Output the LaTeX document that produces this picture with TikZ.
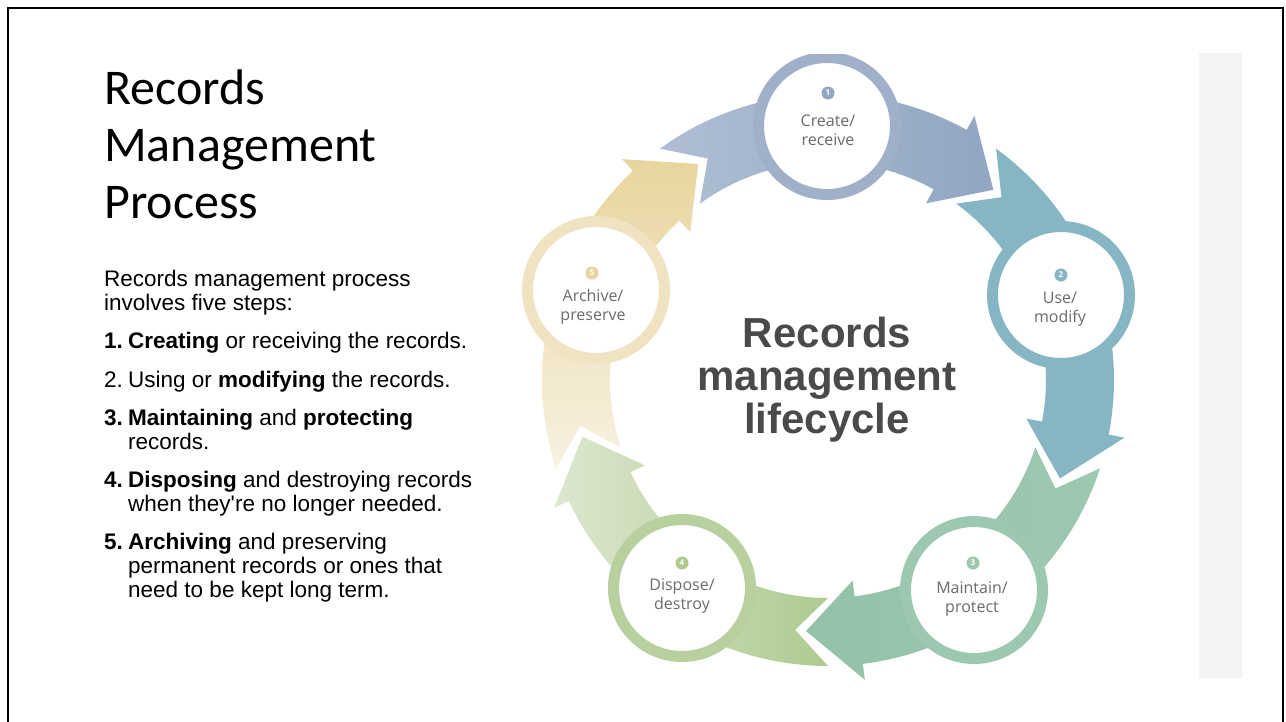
\documentclass[tikz,border=0pt]{standalone}
\usepackage{fontspec}
\setmainfont{Liberation Sans}
\newfontfamily\titlefont{Carlito}
\newfontfamily\lblfont{Open Sans}
\definecolor{cA}{HTML}{9FB0C8}
\definecolor{cAd}{HTML}{91A6C0}
\definecolor{cAl}{HTML}{AFBED3}
\definecolor{cB}{HTML}{86B5C3}
\definecolor{cC}{HTML}{9DC8B0}
\definecolor{cCd}{HTML}{93C2A8}
\definecolor{cD}{HTML}{B7D09D}
\definecolor{cDd}{HTML}{AECA90}
\definecolor{cDl}{HTML}{DCE7CF}
\definecolor{cE}{HTML}{EFE3C1}
\definecolor{cEd}{HTML}{E8D59E}
\definecolor{cEl}{HTML}{F7F1E1}
\definecolor{lblgray}{HTML}{6B6B6B}
\definecolor{hubgray}{HTML}{4A4A4A}
\definecolor{stripgray}{HTML}{F4F4F4}
\def\Rm{252}
\def\Ri{218}
\def\Ro{286}
\def\Rhi{202}
\def\Rho{302}
\newcommand\arrowseg[3]{%
  \path[#3] ([shift={(828,380)}]#1:\Ro) -- ([shift={(828,380)}]#1+7.5:\Rm) -- ([shift={(828,380)}]#1:\Ri)
    -- plot[domain=#1:#2-7, samples=30] ([shift={(828,380)}]\x:\Ri)
    -- ([shift={(828,380)}]#2-7:\Rhi) -- ([shift={(828,380)}]#2+5:\Rm) -- ([shift={(828,380)}]#2-7:\Rho)
    -- plot[domain=#2-7:#1, samples=30] ([shift={(828,380)}]\x:\Ro) -- cycle;}
\begin{document}
\begin{tikzpicture}[x=1pt,y=-1pt,
  ttl/.style={anchor=base west, inner sep=0, font=\titlefont\fontsize{50}{57}\selectfont},
  body/.style={anchor=base west, inner sep=0, font=\fontsize{22.5}{24.5}\selectfont},
  hub/.style={anchor=base, inner sep=0, text=hubgray, font=\bfseries\fontsize{42}{45}\selectfont},
  ring/.style={circle, minimum size=137, inner sep=0, fill=white, line width=11},
  lbl/.style={align=center, inner sep=0, text=lblgray, font=\lblfont\fontsize{16}{19}\selectfont},
  badge/.style={circle, minimum size=13, inner sep=0, text=white, font=\lblfont\bfseries\fontsize{8}{8}\selectfont}]
\useasboundingbox (0,0) rectangle (1286,721);
\fill[white] (0,0) rectangle (1286,721);
% slide frame
\draw[line width=2, black] (8,725) -- (8,8) -- (1283,8) -- (1283,725);
% grey strip
\fill[stripgray] (1199,53) rectangle (1242,678);
% title
\node[ttl] (t1) at (104,104) {Records};
\node[ttl] (t2) at (104,161) {Management};
\node[ttl] (t3) at (104,218) {Process};
% body text
\node[body] (b0a) at (104,286) {Records management process};
\node[body] (b0b) at (104,310) {involves five steps:};
\node[body] (n1) at (104,348) {\textbf{1.}};
\node[body] (b1) at (128,348) {\textbf{Creating} or receiving the records.};
\node[body] (n2) at (104,387) {2.};
\node[body] (b2) at (128,387) {Using or \textbf{modifying} the records.};
\node[body] (n3) at (104,425) {\textbf{3.}};
\node[body] (b3a) at (128,425) {\textbf{Maintaining} and \textbf{protecting}};
\node[body] (b3b) at (128,449) {records.};
\node[body] (n4) at (104,487) {\textbf{4.}};
\node[body] (b4a) at (128,487) {\textbf{Disposing} and destroying records};
\node[body] (b4b) at (128,511) {when they\textquotesingle re no longer needed.};
\node[body] (n5) at (104,549) {\textbf{5.}};
\node[body] (b5a) at (128,549) {\textbf{Archiving} and preserving};
\node[body] (b5b) at (128,573) {permanent records or ones that};
\node[body] (b5c) at (128,597) {need to be kept long term.};
% cycle diagram
\begin{scope}
\clip (505,54) rectangle (1195,690);
\arrowseg{-126}{-54}{left color=cAl, right color=cAd}
\arrowseg{-54}{18}{fill=cB}
\arrowseg{18}{90}{right color=cC, left color=cCd}
\arrowseg{90}{162}{left color=cDl, right color=cDd}
\arrowseg{162}{234}{bottom color=cEl, top color=cEd}
\node[ring, draw=cA] (c1) at (827,126) {};
\node[ring, draw=cB] (c2) at (1061,295) {};
\node[ring, draw=cC] (c3) at (974,590) {};
\node[ring, draw=cD] (c4) at (682,588) {};
\node[ring, draw=cE] (c5) at (596,290) {};
\end{scope}
\node[badge, fill=cAd] (k1) at (828,93) {1};
\node[badge, fill=cB] (k2) at (1061,275) {2};
\node[badge, fill=cC] (k3) at (973,563) {3};
\node[badge, fill=cDd] (k4) at (682,563) {4};
\node[badge, fill=cEd] (k5) at (592,273) {5};
\node[lbl] (l1) at (828,130) {Create/\\receive};
\node[lbl] (l2) at (1060,309) {Use/\\modify};
\node[lbl] (l3) at (972,599) {Maintain/\\protect};
\node[lbl] (l4) at (682,596) {Dispose/\\destroy};
\node[lbl] (l5) at (593,307) {Archive/\\preserve};
\node[hub] (h1) at (827,347) {Records};
\node[hub] (h2) at (827,390) {management};
\node[hub] (h3) at (827,433) {lifecycle};
\end{tikzpicture}
\end{document}
